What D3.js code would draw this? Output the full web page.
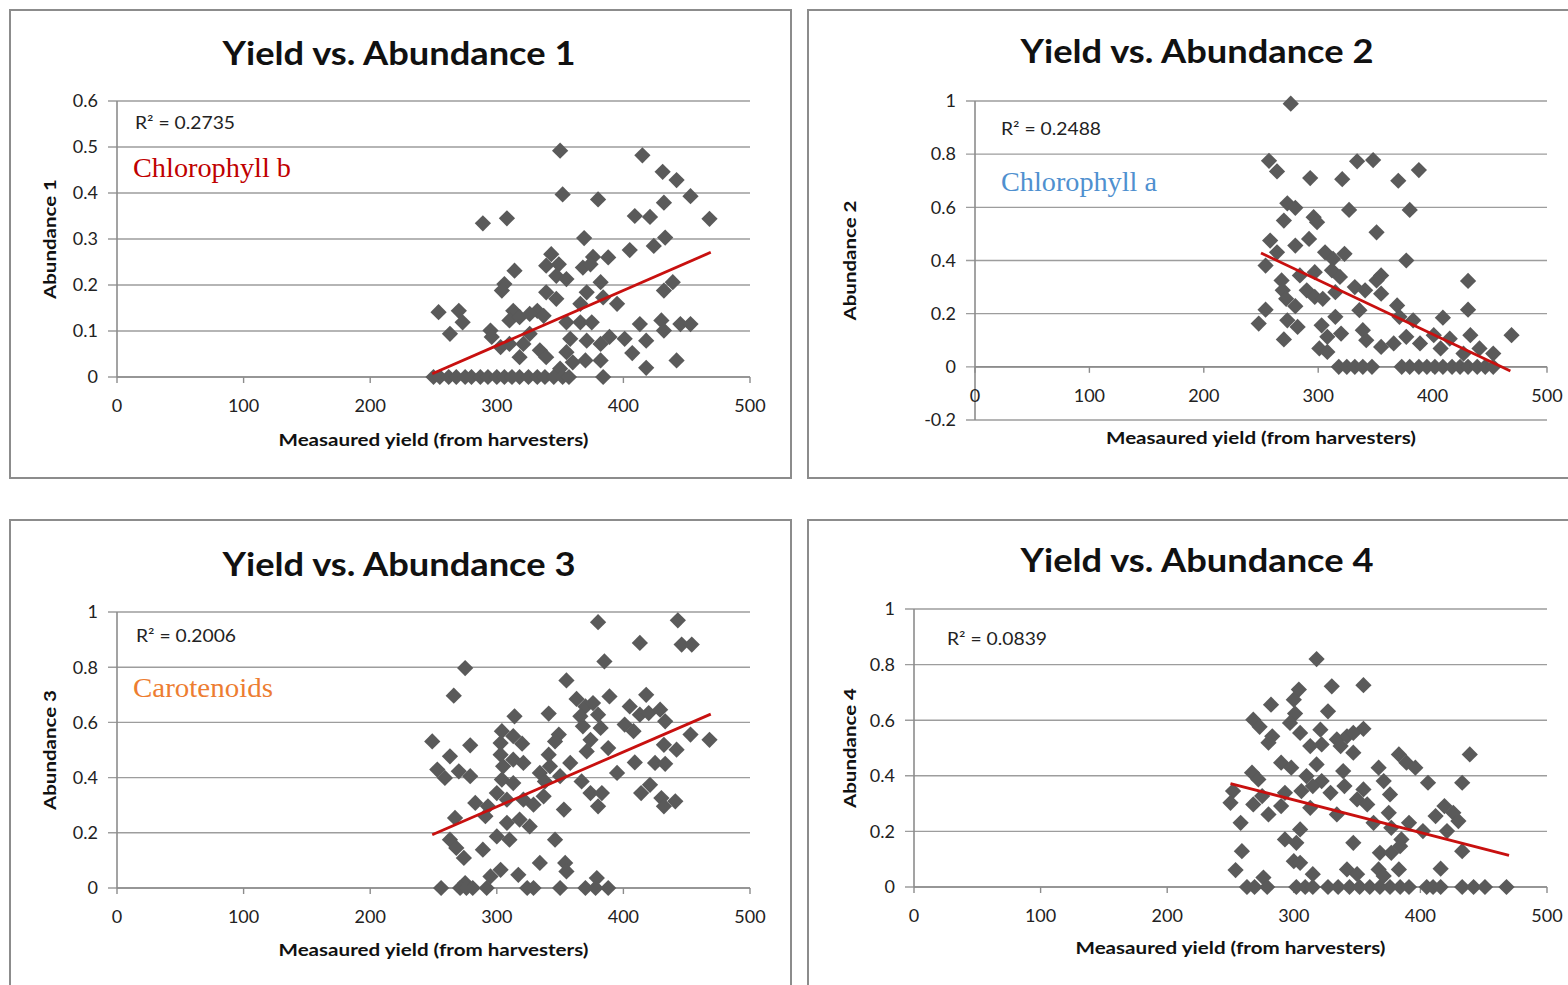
<!DOCTYPE html>
<html>
<head>
<meta charset="utf-8">
<script src="https://cdn.jsdelivr.net/npm/d3@7"></script>
<style>
  body { margin: 0; background: #fff; }
  text { font-family: Lato, "Open Sans", sans-serif; }
</style>
</head>
<body>
<div class="myViz"></div>
<script>
// ---- data ----
var xTicks = [0, 100, 200, 300, 400, 500];

var yield1 = [350,415,431,442,453,352,380,432,289,308,409,421,468,369,433,424,405,343,376,388,339,349,368,374,314,347,355,382,439,306,304,432,339,347,371,384,395,366,313,332,254,270,273,263,295,310,318,326,337,355,366,375,413,430,445,453,432,296,303,310,321,326,334,358,371,382,389,401,418,355,318,339,360,370,382,407,418,442,384,350,
  250,255,262,268,275,280,287,293,300,306,312,318,325,332,338,345,352,357];
var abund1 = [0.492,0.482,0.446,0.428,0.393,0.397,0.386,0.379,0.334,0.345,0.35,0.348,0.344,0.302,0.303,0.285,0.276,0.267,0.261,0.26,0.242,0.245,0.238,0.245,0.231,0.22,0.213,0.206,0.206,0.202,0.188,0.188,0.184,0.17,0.184,0.173,0.159,0.159,0.144,0.144,0.141,0.144,0.119,0.094,0.101,0.123,0.13,0.137,0.133,0.119,0.119,0.119,0.115,0.123,0.115,0.115,0.101,0.087,0.065,0.072,0.072,0.094,0.058,0.083,0.079,0.072,0.087,0.083,0.079,0.054,0.043,0.043,0.032,0.036,0.036,0.052,0.02,0.036,0,0.018,
  0,0,0,0,0,0,0,0,0,0,0,0,0,0,0,0,0,0];
var trend1 = [[249, 0.007], [469, 0.271]];

var yield2 = [276,257,264,293,321,334,348,370,388,380,327,273,280,270,296,299,351,258,264,280,292,377,254,306,313,323,268,284,297,312,319,355,351,431,269,272,280,290,297,304,315,332,341,355,336,369,383,371,431,409,254,248,273,282,270,303,315,320,308,301,308,339,342,355,366,377,389,401,407,415,433,441,453,469,427,
  318,325,332,339,347,373,380,388,395,402,409,417,424,431,439,446,453];
var abund2 = [0.99,0.775,0.735,0.71,0.706,0.773,0.778,0.7,0.74,0.59,0.59,0.615,0.598,0.55,0.563,0.544,0.506,0.475,0.431,0.456,0.481,0.4,0.381,0.431,0.406,0.425,0.325,0.344,0.356,0.363,0.338,0.344,0.325,0.323,0.288,0.256,0.228,0.288,0.263,0.256,0.281,0.3,0.288,0.275,0.213,0.231,0.175,0.188,0.215,0.185,0.215,0.163,0.175,0.15,0.103,0.156,0.188,0.125,0.113,0.069,0.056,0.138,0.1,0.075,0.088,0.113,0.088,0.119,0.069,0.106,0.119,0.069,0.05,0.119,0.05,
  0,0,0,0,0,0,0,0,0,0,0,0,0,0,0,0,0];
var trend2 = [[250, 0.428], [468, -0.016]];

var yield3 = [380,443,413,446,454,385,275,266,355,363,389,418,370,376,405,413,420,429,314,341,366,380,433,368,382,401,408,249,304,313,349,453,468,279,303,320,346,374,388,432,442,263,303,313,321,341,371,253,259,270,279,305,334,342,358,409,425,433,395,304,313,338,350,367,421,414,374,383,430,441,432,380,300,283,293,308,321,329,337,353,267,291,308,318,326,310,300,346,263,268,274,289,334,354,303,317,295,355,379,275,
  256,271,276,281,292,324,329,350,370,378,388];
var abund3 = [0.963,0.97,0.888,0.882,0.882,0.821,0.797,0.697,0.752,0.685,0.694,0.7,0.658,0.67,0.658,0.628,0.634,0.646,0.622,0.632,0.622,0.628,0.604,0.586,0.58,0.592,0.568,0.531,0.568,0.55,0.556,0.556,0.537,0.517,0.525,0.523,0.531,0.537,0.507,0.519,0.501,0.477,0.483,0.465,0.453,0.483,0.495,0.429,0.399,0.423,0.405,0.441,0.417,0.441,0.453,0.455,0.453,0.45,0.417,0.393,0.38,0.386,0.405,0.386,0.374,0.344,0.344,0.344,0.326,0.314,0.296,0.296,0.344,0.308,0.296,0.32,0.32,0.302,0.332,0.284,0.254,0.26,0.236,0.248,0.223,0.175,0.187,0.175,0.175,0.145,0.109,0.139,0.091,0.091,0.066,0.048,0.042,0.06,0.036,0.018,
  0,0,0,0,0,0,0,0,0,0,0];
var trend3 = [[249, 0.193], [469, 0.63]];

var yield4 = [318,304,300,330,355,282,327,301,268,273,297,283,280,305,321,355,313,322,334,342,347,337,347,439,383,389,396,290,298,318,367,267,339,272,310,322,371,406,433,252,250,268,275,293,306,315,329,340,355,350,358,376,290,313,334,363,375,391,419,426,430,412,280,258,305,377,402,421,385,293,302,347,384,433,259,368,377,300,305,254,416,383,342,367,315,350,371,276,
  263,269,279,302,309,315,327,335,344,352,360,368,376,384,391,405,410,416,433,442,451,468];
var abund4 = [0.82,0.71,0.674,0.722,0.726,0.656,0.632,0.624,0.602,0.576,0.59,0.542,0.519,0.554,0.566,0.569,0.507,0.513,0.531,0.542,0.554,0.507,0.483,0.477,0.477,0.447,0.429,0.447,0.429,0.441,0.429,0.411,0.417,0.387,0.399,0.381,0.381,0.375,0.375,0.345,0.303,0.297,0.327,0.339,0.345,0.363,0.339,0.363,0.351,0.315,0.297,0.333,0.291,0.285,0.261,0.231,0.267,0.231,0.291,0.267,0.237,0.255,0.261,0.231,0.207,0.213,0.201,0.201,0.171,0.171,0.159,0.159,0.147,0.129,0.129,0.123,0.123,0.093,0.087,0.061,0.066,0.063,0.063,0.063,0.046,0.046,0.04,0.034,
  0,0,0,0,0,0,0,0,0,0,0,0,0,0,0,0,0,0,0,0,0,0];
var trend4 = [[250, 0.372], [470, 0.114]];

var titles = ["Yield vs. Abundance 1", "Yield vs. Abundance 2", "Yield vs. Abundance 3", "Yield vs. Abundance 4"];
var yTitles = ["Abundance 1", "Abundance 2", "Abundance 3", "Abundance 4"];
var rSquared = ["R\u00b2 = 0.2735", "R\u00b2 = 0.2488", "R\u00b2 = 0.2006", "R\u00b2 = 0.0839"];
var seriesNames = ["Chlorophyll b", "Chlorophyll a", "Carotenoids", ""];
var yTicks1 = [0, 0.1, 0.2, 0.3, 0.4, 0.5, 0.6];
var yTicks2 = [-0.2, 0, 0.2, 0.4, 0.6, 0.8, 1];
var yTicks3 = [0, 0.2, 0.4, 0.6, 0.8, 1];
var yTicks4 = [0, 0.2, 0.4, 0.6, 0.8, 1];

// ---- layout of each panel (pixels) ----
var panels = [
  {fx: 10,  fy: 10,  left: 117, right: 750,  top: 101, bottom: 377, xs: yield1, ys: abund1, trend: trend1, yTicks: yTicks1,
   titleY: 65, xTitleY: 446, yTitleX: 50, rx: 135, ry: 129, sx: 133, sy: 177, sLen: 158, sColor: "#c00000"},
  {fx: 808, fy: 10,  left: 975, right: 1547, top: 101, bottom: 420, xs: yield2, ys: abund2, trend: trend2, yTicks: yTicks2,
   titleY: 63, xTitleY: 444, yTitleX: 850, rx: 1001, ry: 135, sx: 1001, sy: 191, sLen: 156, sColor: "#4f90cf"},
  {fx: 10,  fy: 520, left: 117, right: 750,  top: 612, bottom: 888, xs: yield3, ys: abund3, trend: trend3, yTicks: yTicks3,
   titleY: 576, xTitleY: 956, yTitleX: 50, rx: 136, ry: 642, sx: 133, sy: 697, sLen: 140, sColor: "#ed7d31"},
  {fx: 808, fy: 520, left: 914, right: 1547, top: 609, bottom: 887, xs: yield4, ys: abund4, trend: trend4, yTicks: yTicks4,
   titleY: 572, xTitleY: 954, yTitleX: 850, rx: 947, ry: 645, sx: 947, sy: 697, sLen: 0, sColor: "#000"}
];

var svg = d3.select(".myViz")
  .append("svg")
  .attr("width", 1568)
  .attr("height", 985);

// rotated square = the Excel diamond marker
var diamond = d3.symbol().type(d3.symbolSquare).size(132);

panels.forEach(function(p, i) {
  var g = svg.append("g");

  // frame
  g.append("rect")
    .attr("x", p.fx).attr("y", p.fy)
    .attr("width", 781).attr("height", 468)
    .attr("fill", "#fff")
    .attr("stroke", "#8c8c8c")
    .attr("stroke-width", 2);

  var x = d3.scaleLinear().domain([0, 500]).range([p.left, p.right]);
  var y = d3.scaleLinear().domain(d3.extent(p.yTicks)).range([p.bottom, p.top]);

  // horizontal gridlines + y ticks
  g.selectAll(".grid")
    .data(p.yTicks)
    .enter().append("line")
      .attr("x1", p.left - 9).attr("x2", p.right)
      .attr("y1", d => y(d)).attr("y2", d => y(d))
      .attr("stroke", "#9d9d9d")
      .attr("stroke-width", 1.4);

  g.selectAll(".ylab")
    .data(p.yTicks)
    .enter().append("text")
      .attr("x", p.left - 19)
      .attr("y", d => y(d))
      .attr("dy", "0.35em")
      .attr("text-anchor", "end")
      .attr("font-size", 18)
      .attr("fill", "#222")
      .text(d => String(+d.toFixed(1)));

  // y axis line
  g.append("line")
    .attr("x1", p.left).attr("x2", p.left)
    .attr("y1", p.top).attr("y2", p.bottom)
    .attr("stroke", "#8c8c8c")
    .attr("stroke-width", 1.6);

  // x axis on the zero line
  var y0 = y(0);
  g.append("line")
    .attr("x1", p.left).attr("x2", p.right)
    .attr("y1", y0).attr("y2", y0)
    .attr("stroke", "#8c8c8c")
    .attr("stroke-width", 1.6);

  g.selectAll(".xtick")
    .data(xTicks)
    .enter().append("line")
      .attr("x1", d => x(d)).attr("x2", d => x(d))
      .attr("y1", y0).attr("y2", y0 + 6)
      .attr("stroke", "#8c8c8c")
      .attr("stroke-width", 1.4);

  g.selectAll(".xlab")
    .data(xTicks)
    .enter().append("text")
      .attr("x", d => x(d))
      .attr("y", y0 + 35)
      .attr("text-anchor", "middle")
      .attr("font-size", 18)
      .attr("fill", "#222")
      .text(d => d);

  // points
  var pts = p.xs.map((v, k) => [v, p.ys[k]]);
  g.selectAll(".pt")
    .data(pts)
    .enter().append("path")
      .attr("d", diamond)
      .attr("transform", d => "translate(" + x(d[0]) + "," + y(d[1]) + ") rotate(45)")
      .attr("fill", "#5a5a5a");

  // trend line
  g.append("path")
    .datum(p.trend)
    .attr("d", d3.line().x(d => x(d[0])).y(d => y(d[1])))
    .attr("stroke", "#c8100f")
    .attr("stroke-width", 2.8)
    .attr("fill", "none");

  // title
  g.append("text")
    .attr("x", p.fx + 389)
    .attr("y", p.titleY)
    .attr("text-anchor", "middle")
    .attr("font-size", 32)
    .attr("font-weight", "bold")
    .attr("fill", "#111")
    .attr("textLength", 353)
    .attr("lengthAdjust", "spacingAndGlyphs")
    .text(titles[i]);

  // axis titles
  g.append("text")
    .attr("x", (p.left + p.right) / 2)
    .attr("y", p.xTitleY)
    .attr("text-anchor", "middle")
    .attr("font-size", 17)
    .attr("font-weight", "bold")
    .attr("fill", "#111")
    .attr("textLength", 310)
    .attr("lengthAdjust", "spacingAndGlyphs")
    .text("Measaured  yield (from harvesters)");

  g.append("text")
    .attr("transform", "translate(" + (p.yTitleX + 6) + "," + ((p.top + p.bottom) / 2) + ") rotate(-90)")
    .attr("text-anchor", "middle")
    .attr("font-size", 17)
    .attr("font-weight", "bold")
    .attr("fill", "#111")
    .attr("textLength", 120)
    .attr("lengthAdjust", "spacingAndGlyphs")
    .text(yTitles[i]);

  // R squared label
  g.append("text")
    .attr("x", p.rx)
    .attr("y", p.ry)
    .attr("font-size", 17)
    .attr("fill", "#222")
    .attr("textLength", 100)
    .attr("lengthAdjust", "spacingAndGlyphs")
    .text(rSquared[i]);

  // series name
  if (seriesNames[i]) {
    g.append("text")
      .attr("x", p.sx)
      .attr("y", p.sy)
      .style("font-family", "'Liberation Serif', 'DejaVu Serif', serif")
      .attr("font-size", 27)
      .attr("fill", p.sColor)
      .attr("textLength", p.sLen)
      .attr("lengthAdjust", "spacingAndGlyphs")
      .text(seriesNames[i]);
  }
});
</script>
</body>
</html>
